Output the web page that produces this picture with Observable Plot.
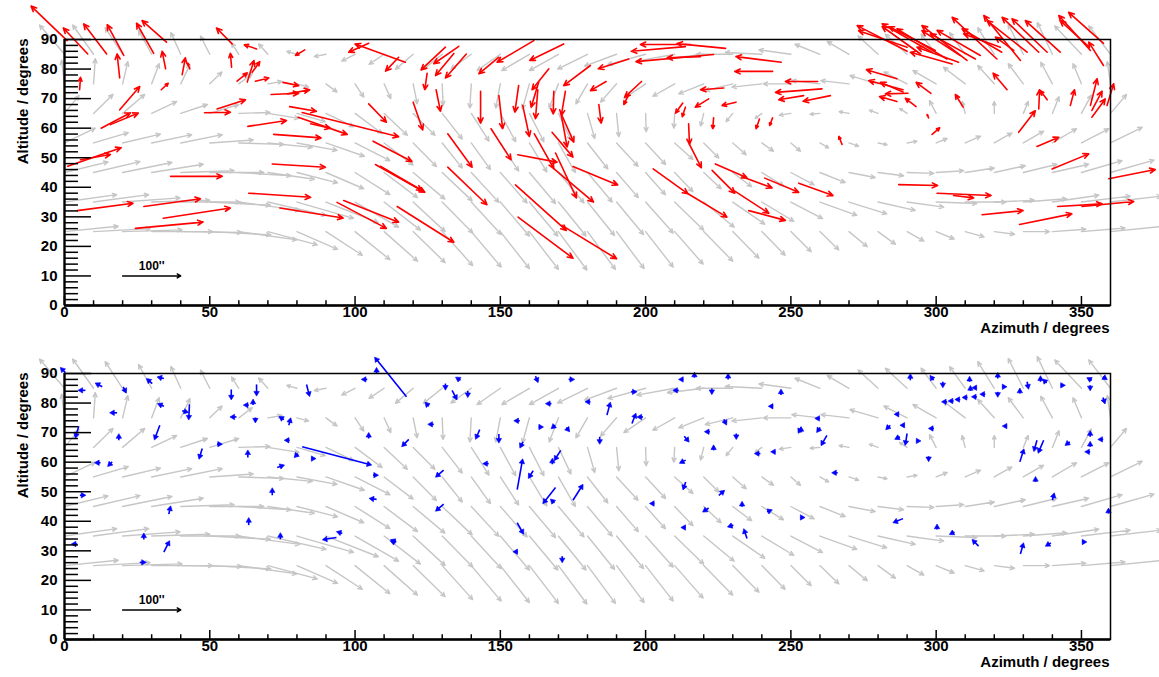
<!DOCTYPE html>
<html><head><meta charset="utf-8">
<script src="https://cdn.jsdelivr.net/npm/d3@7"></script>
<script src="https://cdn.jsdelivr.net/npm/@observablehq/plot@0.6"></script>
<style>
body{margin:0;background:#fff;}
#chart svg{display:block;overflow:visible;}
</style>
</head><body><div id="chart"></div>
<script>
// ---- grid of model (gray) vectors: azimuth columns, altitude rows, shifts in degrees
const fieldAz = [0,10,20,30,40,50,60,70,80,90,100,110,120,130,140,150,160,170,180,190,200,210,220,230,240,250,260,270,280,290,300,310,320,330,340,350,360];
const fieldAlt = [25,35,45,55,65,75,85];
const fieldDAz = [
 [18.5,19.5,20.5,21,21,21,20,17,14,12.5,12,11.5,11,10.5,10.3,10,10,9.8,9.6,9.5,9.5,9.8,10,9,8,7,6.5,6.3,6,5.8,6.2,6.5,7,9,11.5,15,18.5],
 [18,19,19.8,20,20.5,20.9,21,20,19.5,18,15,12.5,11,10.5,10.3,10,9.8,9.5,9.3,9.3,9.5,10,10.5,11,11,10.9,12.7,13,12.8,12.6,14,14,13.8,15,16,16.8,17.5],
 [15,16,17,17.8,18.4,18.6,18,16,14,13,12,11.5,10.9,10.3,9.5,9.2,9,8.8,8.5,7.5,6.8,6.3,6,6.5,7.5,8,8.7,9,8.8,9.2,9.5,10,10.7,11.6,12.5,14,15],
 [10.6,12,13,13.8,14.3,15,15.5,15.3,13.8,13.2,12,10,8,6.9,6.6,6.3,6,5.8,7,7.4,6.9,6.3,5.2,4.6,4,3.3,3,3.3,3.1,3.4,3.8,5.3,6.1,7,8.3,9.4,10.9],
 [5,6.7,7.6,8.6,9.2,10,10.7,10.7,9.7,9.5,9.3,8,7.5,6.9,6.1,5.3,5,4.3,2.5,0.8,0.2,-0.3,-1.1,-2.3,-2.3,-4,-3.4,-3.4,-3,-2.6,-2.3,-1.1,0,1.7,2.3,3.4,5.5],
 [-1,0.6,1.8,2.6,3.2,4.2,4.6,4.9,4,3.8,3,2.3,1.4,0.3,-0.5,-1.6,-2.4,-3.2,-4,-5.5,-7.5,-7.5,-8.6,-9.5,-10.3,-9.5,-9.7,-9.7,-9.7,-8,-8,-7.5,-5.7,-5.2,-4,-2.9,-1.1],
 [-8.6,-7.2,-6,-4.5,-3.4,-3.2,-2.5,-3.2,-3.5,-4,-4.6,-5.2,-6.1,-6.5,-7,-8,-9.5,-10,-10.3,-11,-13,-13,-12.5,-12.6,-12.6,-11,-8.6,-7.5,-6.9,-7.5,-5.2,-5.4,-5.7,-5.2,-5.2,-9.2,-7.5]
];
const fieldDAlt = [
 [1.8,1,0.6,0,-0.3,-1.1,-2.8,-4.5,-6,-8,-9.5,-10,-10.5,-11.5,-12,-12.5,-12.8,-13,-12.8,-12.5,-12,-11,-10,-9,-8,-6.8,-6.2,-5.1,-4.3,-3.2,-2.5,-1.8,-0.9,0,0.8,1.2,1.8],
 [2.5,2.5,1.4,0.6,0,-1.1,-2.8,-4.5,-5.5,-7,-8.5,-9.5,-10,-10.5,-11,-11.5,-11.5,-11.5,-11.3,-11,-10.5,-9.5,-8.5,-7.5,-6.5,-5.6,-4.5,-4,-2.8,-1.7,-0.5,0,0.6,1.1,2.3,2,2],
 [3.6,3.7,3.4,2.8,0.6,0,-1.1,-2.3,-3.5,-5.5,-7.5,-8.5,-9,-9.6,-10.1,-10.3,-10.5,-10.3,-10,-8.5,-7.5,-6.5,-5.5,-4.8,-4.5,-4.2,-3.4,-1.7,-1.1,-0.3,0.6,1.5,2.3,2.8,2.8,4,4.2],
 [5,3.5,3,2.8,2.8,1,-0.5,-1.5,-2.5,-4.5,-6,-7.5,-8,-8.5,-9,-9.5,-9.8,-10,-8.8,-7.9,-7.3,-5.6,-5.1,-4,-2.8,-2.8,-1.7,-1.1,-0.6,0.6,1.5,2.3,3.4,4,4.8,4.8,5.3],
 [6,6.4,6.4,4,3,3,0.3,-1.7,-2.8,-4.5,-6.8,-7.4,-7.4,-8.7,-9.4,-9.6,-9.6,-9,-8.5,-7.9,-6.2,-5,-4.3,-2.8,-1.7,-0.6,-0.3,0.6,1.1,1.7,4.3,4,4,4,5.6,6.2,6.4],
 [8,8.5,7.5,6.8,6.5,4,3.4,0.8,-1.1,-2.8,-4.5,-5,-6.8,-7.3,-8.2,-8.2,-8.5,-8.2,-6.8,-6.2,-5,-4.2,-3.4,-2.3,-1.1,0,1.1,1.1,2.8,4,4.5,5.6,6.2,6.8,7.3,6.8,7.5],
 [9.9,9.9,9,8,7.4,6.2,3.8,3.5,1,-0.8,-2.3,-3.4,-5.1,-5.1,-5,-5.5,-5.5,-5.5,-5,-4,-3.5,-2.3,-1.5,0,0.6,1.5,3.4,4.3,6.2,6.8,6.8,7.3,9,10.1,10.7,9.6,9.6]
];

// ---- measured offsets, top panel (red): [azimuth, altitude, dAz, dAlt]
const redVectors = [
 [0.9,89.6,-12.4,11.7],[8.0,85.1,-8.4,8.8],[14.5,85.1,-7.9,10.2],[20.4,84.6,-5.7,10.4],[30.7,85.3,-5.9,10.2],
 [35.1,89.1,-8.4,7.3],[19.0,77.0,-0.9,8.1],[5.2,73.0,0.3,4.2],[34.8,80.1,-1.2,5.9],[33.3,73.0,2.4,2.2],
 [40.5,78.1,1.1,5.7],[43.1,80.1,-0.7,1.9],[19.0,66.2,6.9,7.9],[12.6,60.0,10.1,5.2],[15.8,61.2,9.6,3.9],
 [5.5,49.3,10.3,1.8],[1.1,47.1,18.4,6.3],[4.4,32.1,19.2,2.5],[27.3,33.5,19.5,2.6],[24.4,26.1,23.3,2.1],
 [34.0,29.5,23.1,3.5],[36.5,43.7,17.8,0],[57.7,88.5,-5.4,5.4],[57.5,80.6,-0.4,4.7],[59.4,75.9,3.5,2.8],
 [62.9,75.6,2.3,7.3],[64.6,78.9,2.6,3.6],[65.7,75.9,4.6,1.1],[66.1,86.8,-4.2,1.4],[52.5,66.5,9.8,3.1],
 [48.2,65.2,8.9,0.2],[63.1,60.6,13.3,2],[72.0,57.9,16.3,-1.2],[71.5,47.9,18.3,-1.1],[63.4,38.0,21.3,-1.4],
 [74.1,33.0,21.8,-3.4],[71.1,71.4,9.5,0.4],[76.8,71.6,7.6,1.4],[75.2,75.5,5.4,-1.1],[77.5,67.3,9.2,-1.6],
 [80.4,63.7,16.9,-5.8],[81.8,65.3,33.2,-8.2],[84.7,61.5,6.8,-1.5],[93.8,34.9,17,-8.8],[96.1,35.5,18.9,-7.3],
 [104.7,68.2,6.1,-6.2],[115.0,84.0,-4.5,-4.7],[104.7,88.7,-6.9,-3],[82.7,86.5,-3.2,-1.9],[106.2,55.6,13.4,-6.9],
 [107.0,47.7,17,-9.4],[108.7,47.1,14.4,-8.2],[117.3,82.3,-17.3,6.2],
 [131.1,87.4,-8.4,-7.7],[135.7,87.7,-8.6,-5.9],[134.0,85.3,-6.3,-7.5],[138.3,85.1,-7.2,-8.1],[124.8,78.6,-0.8,-5.6],
 [127.9,73.0,1.5,-7.3],[120.0,68.8,3.3,-9.4],[114.5,33.5,19.5,-12.1],[131.9,58.1,8.4,-11.3],[131.9,46.8,13.5,-12.7],
 [143.2,72.5,0,-10.8],[149.5,71.0,1.3,-11.2],[146.8,59.8,6.9,-10.5],[156.3,74.4,-1.3,-9],[157.7,67.7,2.3,-10.5],
 [156.0,51.0,13.5,-2.5],[155.2,40.8,17.5,-15.4],[156.1,29.9,18.9,-13.9],[166.7,80.1,-5.8,-7.1],[163.2,75.5,-2.6,-8.4],
 [162.9,73.0,-0.8,-9.8],[168.4,72.5,-0.2,-7.7],[172.4,72.5,-1.4,-8.2],[171.0,64.3,2,-10.7],[171.2,64.3,4.1,-9],
 [167.8,58.6,7.2,-8.4],[161.7,58.1,6.7,-11.8],[169.0,51.6,7.2,-15.2],[168.4,46.3,13.7,-11.3],[171.2,27.1,18.8,-11.3],
 [171.8,88.5,-11.7,-5.6],[161.5,89.6,-12.6,-7.3],[149.5,84.0,-6.9,-5.6],[181.0,81.2,-9.2,-6.8],[175.0,47.0,15.4,-6.2],
 [194.2,83.4,-10.5,-3.3],[186.4,75.8,-5.4,-3.1],[198.6,75.8,-5.8,-5.3],[194.2,71.4,-1.7,-3.4],[183.9,68.0,0.8,-6.3],
 [227.5,87.0,-16.7,1.6],[215.4,88.3,-17.2,0],[213.7,87.6,-18.6,-1.6],[223.4,84.9,-26.7,-2.4],[218.9,84.2,-11.5,-0.4],
 [246.7,82.3,-15.6,1.9],[243.7,79.2,-13,0],[226.9,73.6,-8,-0.6],[221.7,69.9,-4.6,-2.8],[231.1,68.8,-4.8,-1.1],
 [212.8,68.5,-2.5,-3.4],[213.7,67.1,-1.1,-3.2],[223.4,63.5,-0.3,-3.7],[214.8,61.5,0.3,-7],[215.1,54.5,4.1,-7.9],
 [202.6,46.2,12,-8.4],[214.6,37.8,13.4,-7.9],[224.0,47.9,10.9,-4.7],[233.2,43.6,10.3,-3.8],[222.9,45.7,7.8,-7.7],
 [230.7,38.7,11.7,-7.5],[235.5,32.1,12.6,-3.3],[241.0,43.1,11.7,-4.8],[239.2,63.1,-1.2,-3.3],[243.7,63.5,-1,-2.6],
 [259.2,75.8,-11.1,0],[260.7,73.3,-16,-1.2],[254.4,71.0,-8.6,-1.4],[263.6,71.0,-9.4,-1.9],[286.5,76.7,-10.5,3.1],
 [288.6,73.0,-11.8,3.1],[288.6,72.2,-7.8,3.3],[290.3,71.8,-7.8,-0.2],[286.5,69.0,-6,1.7],[298.2,71.8,-5.1,3.7],
 [293.1,67.3,-3.7,2.8],[297.4,63.5,-0.5,1.1],[298.6,57.9,2.6,2.2],[309.3,67.1,-2.7,4.3],[267.6,54.5,-1.1,2.7],
 [252.7,41.4,11.8,-4.2],[287.1,40.9,13.4,-0.3],[300.3,38.0,18.6,-0.8],[306.0,37.2,6.9,-0.8],
 [290.0,86.0,-17.2,8.7],[290.0,87.4,-16.7,5.6],[298.6,85.7,-17.2,9.6],[299.7,86.3,-16,8.1],[303.7,83.4,-17.2,10.2],
 [305.5,81.7,-14.4,4],[307.7,82.3,-14.3,5.1],[310.6,82.9,-15.5,11.8],[313.5,83.4,-15.5,8.5],[315.2,84.6,-14.9,8.5],
 [320.9,83.4,-15.4,14.1],[322.6,85.7,-13.7,7.9],[322.1,87.4,-12.6,4.5],[329.0,82.9,-12.6,15.2],[331.3,85.7,-13.8,10.7],
 [335.3,85.7,-12.6,11.8],[338.2,85.7,-12.1,11.3],[342.7,85.7,-12,10.7],[326.7,86.3,-6.3,4.5],[353.1,86.3,-10.9,11.8],
 [357.6,88.7,-12,10.5],[352.5,87.6,-9.8,8.8],[357.6,81.2,-5.1,7.9],[294.6,85.1,-13.2,9.3],[308.3,84.6,-13.2,8.4],
 [324.4,73.0,-4.8,5.6],[328.4,58.6,5.7,7.3],[334.7,53.8,7.5,3.1],[335.3,66.5,0.3,6.5],[338.2,69.6,-2.3,3.1],
 [346.2,67.7,1.4,5.3],[353.1,67.7,2.3,9],[353.6,66.0,3.5,6.5],[353.6,63.7,4.6,6.2],[358.8,67.7,2.3,7.3],
 [339.9,46.2,12.6,5.1],[359.4,42.9,16,3.1],[315.8,30.7,14.1,1.4],[328.7,27.4,18,3.6],[341.8,33.5,15.3,0.9],
 [350.2,33.5,17.8,1.7]
];

// ---- residual offsets, bottom panel (blue): [azimuth, altitude, dAz, dAlt]
const blueVectors = [
 [0.3,90.3,-1,1],[7.2,84.3,-1.5,0],[13,85.5,-1.5,0.8],[20.2,85.5,0.6,-1.2],[30.2,86.6,-1.2,1],
 [34.2,88.3,-1.3,0.3],[18.1,76.7,-1.5,0],[18.7,67.4,0,1.2],[34.2,78.9,-1.2,0.5],[40.5,77.4,1.2,-0.3],
 [43,79.6,-0.2,-4.3],[32.8,72.5,-1.5,-4],[4.9,72.2,-0.9,-3.1],[12.4,59.8,-1,0],[16.4,60.1,-0.8,-0.8],
 [5.3,48.8,1,0],[4.4,32.3,-1,0],[27.3,33.8,0,1.2],[35.9,42.4,0.4,1.8],[34.2,29.6,1.5,2.9],
 [25.9,26.1,1.2,0],[52.5,66.1,0.8,0],[47.4,64.6,-0.8,-2.6],[57.4,84.6,0,-2.5],[59.2,75.3,-1.2,0],
 [63.4,79.3,-0.8,0],[64.9,79.3,0,1],[65.7,75.1,0,-0.8],[66.1,86.3,0,-2.9],[63.1,61.6,0,1.5],
 [63.4,38.7,0,1.5],[75.5,74.4,-0.8,0.5],[77.2,72.5,0.4,1.5],[77.5,67.4,-0.8,0],[80.4,62.9,-0.6,-0.6],
 [84.9,61.2,0.6,0],[73.2,58.2,1.5,0.5],[71.5,48.8,0,1.5],[74.3,33.9,0,1.2],[83.3,86.3,0.8,-3.1],
 [81.8,65.2,22.9,-5.9],[93.6,34.5,-3.8,-0.6],[95.6,35.9,-1,0.3],[104.2,88,-1,0],[107.4,90,0,1],
 [104.7,68,0,1],[106.2,55.6,0.8,0],[107.4,47.4,-1.5,0.2],[114.2,33,-1,0.4],[117.7,82.1,-10.3,12.6],
 [131.1,86.6,0,-1.2],[133.4,84.3,1.2,-2.3],[136.3,87.7,-0.8,0.5],[138.8,84.1,0,-1.2],[125.4,78.9,-0.6,0.6],
 [127.1,72.8,-1,0],[142.9,71,-1,-2.3],[118.5,67.7,-1.7,-1.7],[149.5,69.5,0,-2],[146,59.5,-1,0],
 [130.5,57.3,-2,-1.7],[130.5,45.8,-2,-1.7],[113.9,32.7,-0.8,0.3],[155.8,39.5,1.7,-3],[156,29.7,-0.6,0],
 [171.3,28.2,0,-1.2],[156.7,74,-1,0],[157.8,66.9,-0.6,-1.2],[163.2,71.9,0.6,0],[168.9,72.5,-0.6,-0.5],
 [172.7,71.7,0.5,-0.6],[170.8,64,-1.7,-2.6],[167.9,59.3,0,1],[161.3,57.1,-1.1,-1.7],[155.8,50.7,1.7,9.4],
 [169,51.4,-3.7,-4.6],[175,47.1,2.9,4.5],[168.6,46.2,-0.6,0.6],[162.1,89.1,0.5,-1.2],[173.5,88,1,0],
 [167.6,79.8,-1,0],[181,80.4,-0.8,0],[186.7,75.9,0.9,3.4],[184.2,68.6,0,-1.5],[195.3,73.1,1,2.5],
 [199.1,75.3,-1,0],[195,83.8,1,0],[211.4,84.3,-1,0],[213,88,-0.6,0],[216.8,88.6,0,0.8],
 [222.8,84.9,0,-1],[228.4,88,0,1],[213.3,68.8,1,-1.2],[222.1,70.3,-0.8,0],[226.9,74.5,0.5,-1],
 [231.2,69.7,0,-1],[223.4,64,0,0.8],[213.8,60.7,-1.2,-0.6],[213.8,53.3,-0.6,-1.7],[225.2,48.8,1.2,1],
 [221.7,44.5,-1.2,-0.8],[203,46,-0.6,0],[213.8,37.9,-0.6,0],[230.2,38.7,-1,-0.3],[233.2,44.9,0,0.8],
 [234.9,34.2,-0.8,2.3],[241.8,43.2,0.8,0.3],[239.5,62.9,-1,0],[244.7,63.5,-0.6,0],[243.9,78.9,-0.6,0],
 [246.6,82.7,0,1],[253.5,71.7,-0.5,-1],[253.5,70,0,1],[259.9,74.8,-0.6,0],[260.1,71.7,-0.6,-0.8],
 [262.4,69.1,-1.5,-2.6],[266.1,56.4,-1,0],[253.3,41.3,0.5,0],[287.1,76.2,-0.5,0],[284.2,72.5,-0.8,-0.8],
 [289.1,72.5,-0.5,0],[290,69.7,-0.5,-3],[287.5,68.6,-0.8,-0.4],[293.2,67.2,0.5,0],[299.2,71.4,-0.8,0],
 [297.4,62,0,-0.8],[288.6,40.9,-2.5,-1],[300.3,37.2,0,0.8],[306.3,36.4,-0.8,-0.4],[314.6,31.6,-1.5,1.5],
 [329,28.9,0.8,2.8],[339.5,32.7,-1,-0.6],[350.2,33,0.6,0],[340,47.1,0.4,1.5],[334.2,53.3,0,0.8],
 [328.8,60.1,1.1,3.4],[324.4,72.2,-0.6,0],[334.7,67.4,-0.8,-2.8],[337,67.4,-1.5,-3.4],[346,66.9,-0.8,-0.6],
 [353,68.6,0,1],[353,65.2,0,0.8],[353,63.5,-0.8,0],[357.5,67.7,-0.8,0],[359.3,42.6,0,0.8],
 [291.1,87.7,0,1.2],[299.1,87.7,-0.6,0.8],[302.3,87.2,0,-1],[311.5,87.2,0,0.8],[314,85.2,-0.6,0],
 [311.8,84.1,0,0.8],[321.2,88.3,0,1],[321.2,83.8,0,-0.8],[322.7,85.5,0.6,0],[328.8,83.2,0,0.8],
 [331.3,87.2,0.3,-1.5],[335.9,87.2,0,1],[338,86.8,-0.6,0.6],[342.8,86,0.6,0],[353.6,87.7,-0.8,0.4],
 [357.4,88.9,0.6,-0.4],[357.4,81.9,0.4,-1.2],[353,86,0,-0.8],[303.7,80.4,-0.8,0],[306,80.7,-0.8,0],
 [308.3,81.2,-0.8,0],[310.8,81.9,-0.8,0],[314,82.1,-0.8,0],[316.9,83,-0.8,0]
];

// ---- axes
const xTickLabels = [0,50,100,150,200,250,300,350];
const xMinorTicks = [10,20,30,40,60,70,80,90,110,120,130,140,160,170,180,190,210,220,230,240,260,270,280,290,310,320,330,340];
const yTickLabels = [0,10,20,30,40,50,60,70,80,90];
const yMinorTicks = [2,4,6,8,12,14,16,18,22,24,26,28,32,34,36,38,42,44,46,48,52,54,56,58,62,64,66,68,72,74,76,78,82,84,86,88];
const xTitle = "Azimuth / degrees";
const yTitle = "Altitude / degrees";
const scaleArrowAz = [20, 40];
const scaleArrowAlt = 10;
const scaleLabel = "100''";

const FONT = "'Liberation Sans', Arial, Helvetica, sans-serif";

function fieldRecords() {
  const out = [];
  fieldAlt.forEach((alt, i) => fieldAz.forEach((az, j) => {
    out.push({x1: az, y1: alt, x2: az + fieldDAz[i][j], y2: alt + fieldDAlt[i][j]});
  }));
  return out;
}
function vecRecords(v) {
  return v.map(([az, alt, da, dl]) => ({x1: az, y1: alt, x2: az + da, y2: alt + dl, da, dl}));
}

function panel(vectors, color, height, mt, mb, headsAsTriangles) {
  const recs = vecRecords(vectors);
  const scaleBar = [{x1: scaleArrowAz[0], x2: scaleArrowAz[1], y: scaleArrowAlt}];
  const measMarks = headsAsTriangles ? [
    Plot.link(recs, {x1: "x1", y1: "y1", x2: "x2", y2: "y2", stroke: color, strokeWidth: 1.6}),
    Plot.dot(recs, {x: "x2", y: "y2", symbol: "triangle", r: 2, fill: color, stroke: color, strokeWidth: 0.6,
      rotate: d => Math.atan2(d.da * 2.906, d.dl * 2.956) * 180 / Math.PI})
  ] : [
    Plot.arrow(recs, {x1: "x1", y1: "y1", x2: "x2", y2: "y2", stroke: color, strokeWidth: 1.6, headLength: 5.5, headAngle: 50})
  ];
  return Plot.plot({
    width: 1159, height, marginLeft: 64, marginRight: 49, marginTop: mt, marginBottom: mb,
    x: {domain: [0, 360], axis: null},
    y: {domain: [0, 90], axis: null},
    style: {overflow: "visible", fontFamily: FONT, background: "white", color: "black"},
    marks: [
      Plot.arrow(fieldRecords(), {x1: "x1", y1: "y1", x2: "x2", y2: "y2", stroke: "#c6c6c6", strokeWidth: 1.4, headLength: 5, headAngle: 50}),
      ...measMarks,
      Plot.arrow(scaleBar, {x1: "x1", x2: "x2", y1: "y", y2: "y", stroke: "black", strokeWidth: 1.5, headLength: 4, headAngle: 60}),
      Plot.text(scaleBar, {x: d => (d.x1 + d.x2) / 2, y: "y", text: () => scaleLabel, dy: -10, fontSize: 12, fontWeight: "bold", fill: "black"}),
      Plot.frame({stroke: "black", strokeWidth: 1.5}),
      Plot.ruleX([0], {stroke: "black", strokeWidth: 2.2}),
      Plot.ruleY([0], {stroke: "black", strokeWidth: 2.5}),
      Plot.ruleX(xTickLabels, {x: d => d, y1: 0, y2: 3.05, stroke: "black", strokeWidth: 1.5}),
      Plot.ruleX(xMinorTicks, {x: d => d, y1: 0, y2: 1.6, stroke: "black", strokeWidth: 1.5}),
      Plot.ruleY(yTickLabels, {y: d => d, x1: 0, x2: 9.3, stroke: "black", strokeWidth: 1.5}),
      Plot.ruleY(yMinorTicks, {y: d => d, x1: 0, x2: 4.8, stroke: "black", strokeWidth: 1.5}),
      Plot.text(xTickLabels, {x: d => d, frameAnchor: "bottom", dy: 11, text: d => String(d), fontSize: 15, fontWeight: "bold", fill: "black"}),
      Plot.text(yTickLabels, {y: d => d, frameAnchor: "left", dx: -7, textAnchor: "end", text: d => String(d), fontSize: 15, fontWeight: "bold", fill: "black"}),
      Plot.text([xTitle], {frameAnchor: "bottom-right", textAnchor: "end", dy: 27, dx: -1, fontSize: 15, fontWeight: "bold", fill: "black"}),
      Plot.text([yTitle], {frameAnchor: "top-left", rotate: -90, textAnchor: "end", dx: -47, dy: -1, fontSize: 15, fontWeight: "bold", fill: "black"})
    ]
  });
}

const root = document.getElementById("chart");
root.appendChild(panel(redVectors, "#ff0000", 338, 39, 33, false));
root.appendChild(panel(blueVectors, "#0000ff", 339, 35, 38, true));
</script>
</body></html>
